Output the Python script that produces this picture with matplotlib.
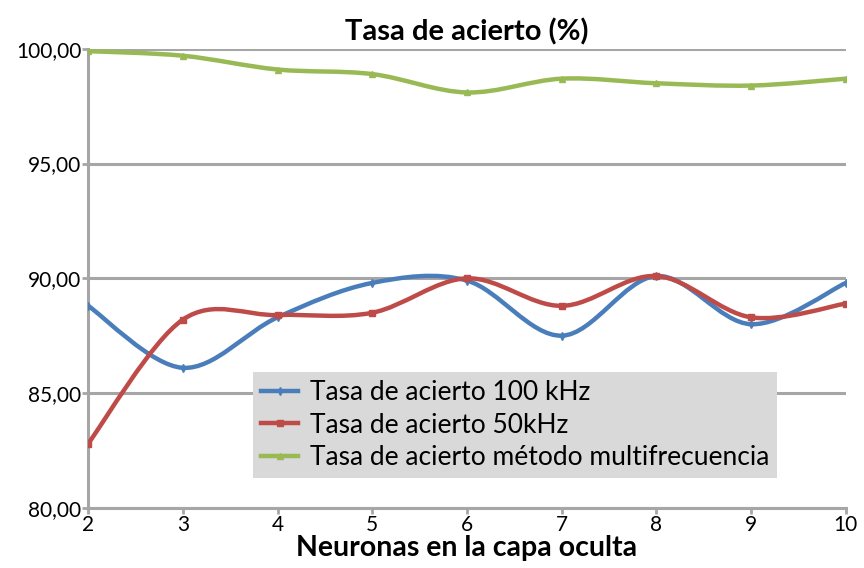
'''Tasa de acierto vs neuronas en la capa oculta.'''

import matplotlib
matplotlib.use('Agg')
import matplotlib.pyplot as plt
from matplotlib.path import Path
from matplotlib.patches import PathPatch

neuronas = [2, 3, 4, 5, 6, 7, 8, 9, 10]
acierto_100k = [88.8, 86.1, 88.3, 89.8, 89.9, 87.5, 90.1, 88.0, 89.8]
acierto_50k = [82.8, 88.2, 88.4, 88.5, 90.0, 88.8, 90.1, 88.3, 88.9]
acierto_multi = [99.9, 99.7, 99.1, 98.9, 98.1, 98.7, 98.5, 98.4, 98.7]

labels = ['Tasa de acierto 100 kHz', 'Tasa de acierto 50kHz',
          'Tasa de acierto método multifrecuencia']
colors = ['#4A7EBB', '#BE4B48', '#98B954']
markers = ['d', 's', '^']

plt.rcParams['font.family'] = ['Lato', 'DejaVu Sans']


def smooth_path(xs, ys):
    '''Excel-like smoothed line: cubic Bezier through every point.'''
    verts = [(xs[0], ys[0])]
    codes = [Path.MOVETO]
    n = len(xs)
    for i in range(n - 1):
        x0, y0 = xs[max(i - 1, 0)], ys[max(i - 1, 0)]
        x1, y1 = xs[i], ys[i]
        x2, y2 = xs[i + 1], ys[i + 1]
        x3, y3 = xs[min(i + 2, n - 1)], ys[min(i + 2, n - 1)]
        verts += [(x1 + (x2 - x0) / 6, y1 + (y2 - y0) / 6),
                  (x2 - (x3 - x1) / 6, y2 - (y3 - y1) / 6),
                  (x2, y2)]
        codes += [Path.CURVE4] * 3
    return Path(verts, codes)


fig = plt.figure(figsize=(8.64, 5.68), dpi=100)
ax = fig.add_axes([0.102, 0.106, 0.877, 0.808])

for ys, c, m, lab in zip([acierto_100k, acierto_50k, acierto_multi],
                         colors, markers, labels):
    ax.add_patch(PathPatch(smooth_path(neuronas, ys), fill=False,
                           edgecolor=c, lw=3.2, capstyle='round', zorder=3))
    ax.plot(neuronas, ys, ls='none', marker=m, ms=4, color=c, zorder=4)
    ax.plot([], [], color=c, lw=3.2, marker=m, ms=4, label=lab)

ax.set_xlim(2, 10)
ax.set_ylim(80, 100)
ax.set_xticks(neuronas)
ax.set_yticks([80, 85, 90, 95, 100])
ax.set_yticklabels(['80,00', '85,00', '90,00', '95,00', '100,00'])
ax.grid(axis='y', color='#A6A6A6', lw=2.2)
ax.set_axisbelow(True)
for s in ['top', 'right']:
    ax.spines[s].set_visible(False)
for s in ['left', 'bottom']:
    ax.spines[s].set_color('#A6A6A6')
    ax.spines[s].set_linewidth(2.2)
ax.tick_params(colors='#A6A6A6', labelcolor='black', labelsize=15,
               width=2, length=4, pad=1)

ax.set_title('Tasa de acierto (%)', fontsize=21, fontweight='bold', pad=6)
ax.set_xlabel('Neuronas en la capa oculta', fontsize=20.5,
              fontweight='bold', labelpad=0)

leg = ax.legend(loc='lower left', bbox_to_anchor=(0.218, 0.065),
                fontsize=19, frameon=True, fancybox=False,
                handlelength=1.4, handletextpad=0.45,
                labelspacing=0.28, borderpad=0.3, borderaxespad=0)
leg.get_frame().set_facecolor('#D9D9D9')
leg.get_frame().set_edgecolor('none')
leg.get_frame().set_alpha(1)
leg.set_zorder(5)

fig.savefig('out.png', dpi=100)
